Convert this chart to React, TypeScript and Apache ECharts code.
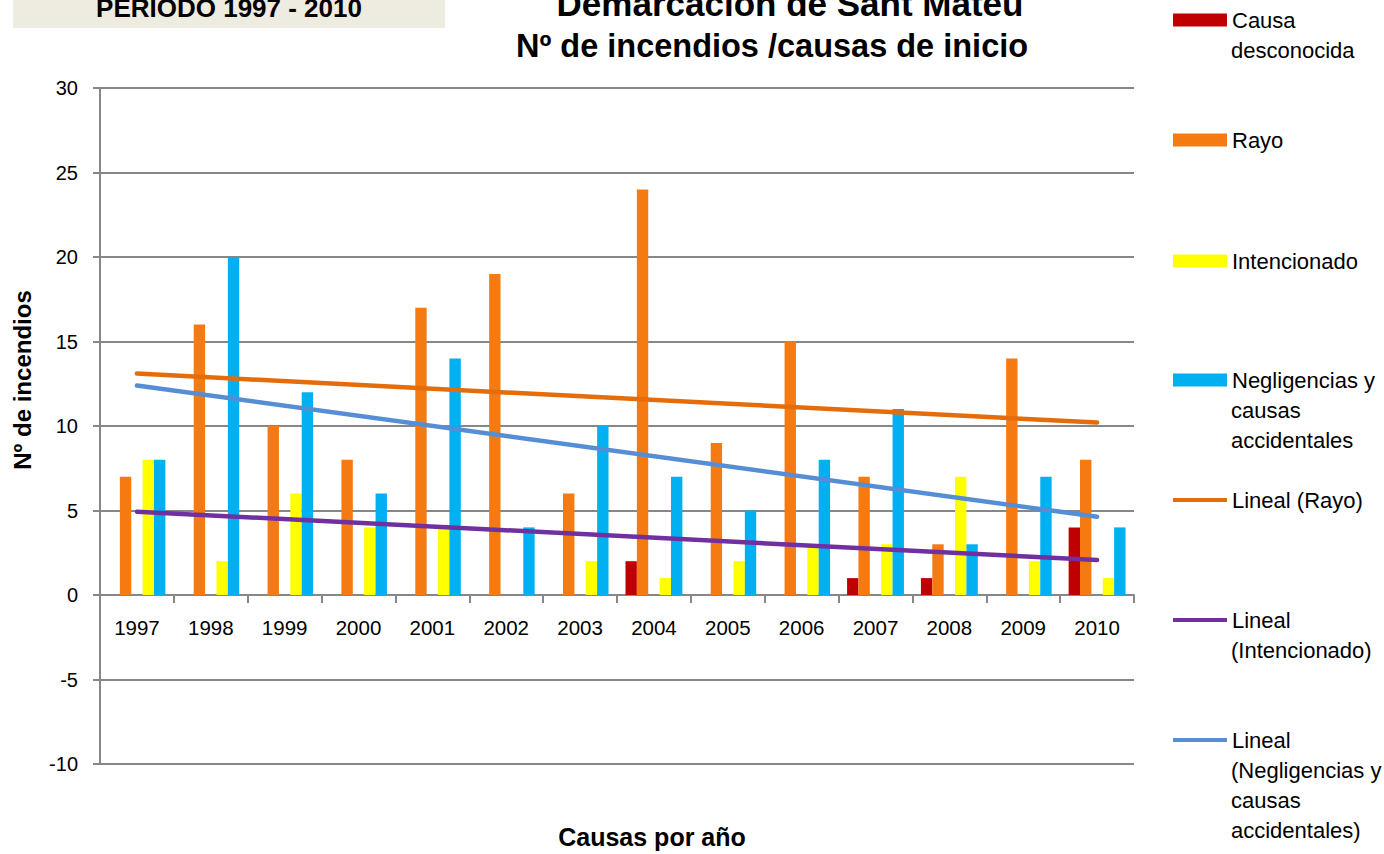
import React, { useEffect, useRef } from "react";
import * as echarts from "echarts";

const categories = ["1997", "1998", "1999", "2000", "2001", "2002", "2003", "2004", "2005", "2006", "2007", "2008", "2009", "2010"];
const causaDesconocida = [0, 0, 0, 0, 0, 0, 0, 2, 0, 0, 1, 1, 0, 4];
const rayo = [7, 16, 10, 8, 17, 19, 6, 24, 9, 15, 7, 3, 14, 8];
const intencionado = [8, 2, 6, 4, 4, 0, 2, 1, 2, 3, 3, 7, 2, 1];
const negligencias = [8, 20, 12, 6, 14, 4, 10, 7, 5, 8, 11, 3, 7, 4];
// trend line endpoints (first and last year)
const trendRayo = [13.1, 10.2];
const trendIntencionado = [4.93, 2.07];
const trendNegligencias = [12.4, 4.63];
const yMin = -10;
const yMax = 30;
const yStep = 5;

const FONT = "'Liberation Sans', Arial, sans-serif";
const AXIS_GRAY = "#878787";

const legendEntries = [
  { name: "Causa desconocida", lines: ["Causa", "desconocida"], y: 20, line: false },
  { name: "Rayo", lines: ["Rayo"], y: 140, line: false },
  { name: "Intencionado", lines: ["Intencionado"], y: 261, line: false },
  { name: "Negligencias y causas accidentales", lines: ["Negligencias y", "causas", "accidentales"], y: 380, line: false },
  { name: "Lineal (Rayo)", lines: ["Lineal (Rayo)"], y: 500, line: true },
  { name: "Lineal (Intencionado)", lines: ["Lineal", "(Intencionado)"], y: 620, line: true },
  { name: "Lineal (Negligencias y causas accidentales)", lines: ["Lineal", "(Negligencias y", "causas", "accidentales)"], y: 740, line: true },
];

export default function App() {
  const ref = useRef<HTMLDivElement>(null);
  useEffect(() => {
    if (!ref.current) return;
    const chart = echarts.init(ref.current, undefined, { renderer: "svg" });
    const last = categories.length - 1;
    const barBase = { type: "bar", barGap: "0%", barCategoryGap: "23%" };
    const trend = (name: string, ends: number[], color: string) => ({
      type: "line",
      name,
      color,
      data: [[0, ends[0]], [last, ends[1]]],
      symbol: "none",
      lineStyle: { color, width: 4.5, cap: "round" },
      z: 5,
    });

    const legends = legendEntries.map((e) => ({
      data: [e.name],
      left: 1173,
      top: e.y - 15,
      padding: 0,
      orient: "vertical",
      icon: "rect",
      itemWidth: 54,
      itemHeight: e.line ? 4 : 13,
      selectedMode: false,
      formatter: () => e.lines[0],
      textStyle: { fontSize: 22, lineHeight: 30, fontFamily: FONT, color: "#000" },
    }));

    const extraLines: any[] = [];
    legendEntries.forEach((e) => {
      e.lines.slice(1).forEach((t, k) => {
        extraLines.push({
          type: "text",
          left: 1231,
          top: e.y + 30 * (k + 1) - 15,
          style: { text: t, fontSize: 22, lineHeight: 30, fontFamily: FONT, fill: "#000", verticalAlign: "top" },
        });
      });
    });

    chart.setOption({
      animation: false,
      backgroundColor: "#fff",
      title: [
        {
          text: "Demarcación de Sant Mateu",
          left: 785,
          top: -22,
          textAlign: "center",
          textStyle: { fontSize: 35, fontWeight: "bold", lineHeight: 40, fontFamily: FONT, color: "#000" },
        },
        {
          text: "Nº de incendios /causas de inicio",
          left: 767,
          top: 21,
          textAlign: "center",
          textStyle: { fontSize: 32.5, fontWeight: "bold", lineHeight: 40, fontFamily: FONT, color: "#000" },
        },
      ],
      legend: legends,
      grid: { left: 100, right: 250, top: 88, bottom: 90, containLabel: false, outerBoundsMode: "none" },
      xAxis: {
        type: "category",
        data: categories,
        name: "Causas por año",
        nameLocation: "middle",
        nameGap: 60,
        nameTextStyle: { fontSize: 25, fontWeight: "bold", fontFamily: FONT, color: "#000", padding: [0, 0, 0, 70] },
        axisLine: { onZero: true, lineStyle: { color: AXIS_GRAY, width: 2 } },
        axisTick: { show: true, interval: 0, length: 8, lineStyle: { color: AXIS_GRAY, width: 2 } },
        axisLabel: { fontSize: 20.5, fontFamily: FONT, color: "#000", margin: -147, interval: 0 },
      },
      yAxis: {
        type: "value",
        min: yMin,
        max: yMax,
        interval: yStep,
        name: "Nº de incendios",
        nameLocation: "middle",
        nameGap: 66,
        nameTextStyle: { fontSize: 24, fontWeight: "bold", fontFamily: FONT, color: "#000", padding: [0, 0, 0, 92] },
        axisLine: { show: true, lineStyle: { color: AXIS_GRAY, width: 2 } },
        axisTick: { show: true, length: 7, lineStyle: { color: AXIS_GRAY, width: 2 } },
        axisLabel: { fontSize: 20, fontFamily: FONT, color: "#000", margin: 22 },
        splitLine: { show: true, lineStyle: { color: AXIS_GRAY, width: 2 } },
      },
      graphic: [
        { type: "rect", shape: { x: 13, y: 0, width: 432, height: 28 }, style: { fill: "#EEEBE0" } },
        {
          type: "text",
          x: 229,
          y: 8,
          style: { text: "PERIODO 1997 - 2010", fontSize: 26, fontWeight: "bold", fontFamily: FONT, fill: "#000", align: "center", verticalAlign: "middle" },
        },
        ...extraLines,
      ],
      series: [
        { ...barBase, name: "Causa desconocida", data: causaDesconocida, itemStyle: { color: "#C00000" } },
        { ...barBase, name: "Rayo", data: rayo, itemStyle: { color: "#F57A12" } },
        { ...barBase, name: "hueco", data: categories.map(() => "-"), itemStyle: { color: "transparent" } },
        { ...barBase, name: "Intencionado", data: intencionado, itemStyle: { color: "#FFFF00" } },
        { ...barBase, name: "Negligencias y causas accidentales", data: negligencias, itemStyle: { color: "#00B0F0" } },
        trend("Lineal (Rayo)", trendRayo, "#E46C0A"),
        trend("Lineal (Intencionado)", trendIntencionado, "#7030A0"),
        trend("Lineal (Negligencias y causas accidentales)", trendNegligencias, "#558ED5"),
      ],
    });
    return () => chart.dispose();
  }, []);
  return <div ref={ref} style={{ width: 1384, height: 854, position: "absolute", left: 0, top: 0 }} />;
}
